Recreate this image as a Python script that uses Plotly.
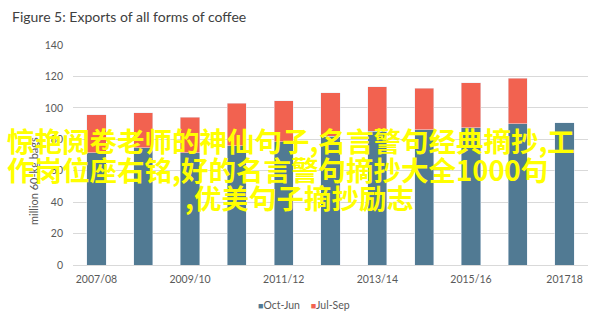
import plotly.graph_objects as go

categories = ["2007/08", "2008/09", "2009/10", "2010/11", "2011/12", "2012/13",
              "2013/14", "2014/15", "2015/16", "2016/17", "2017/18"]
oct_jun = [71.5, 74.5, 71.5, 76, 78.5, 82, 85, 86, 87.5, 90, 90.5]
jul_sep = [24, 22.5, 22.5, 27, 26, 27.5, 28.5, 26.5, 28.5, 29, None]
tick_vals = ["2007/08", "2009/10", "2011/12", "2013/14", "2015/16", "2017/18"]
tick_text = ["2007/08", "2009/10", "2011/12", "2013/14", "2015/16", "201718"]
y_ticks = [0, 20, 40, 60, 80, 100, 120, 140]
series_names = ["Oct-Jun", "Jul-Sep"]

title_text = "Figure 5: Exports of all forms of coffee"
y_title = "million 60-kg bags"
overlay_lines = ["惊艳阅卷老师的神仙句子,名言警句经典摘抄,工",
                 "作岗位座右铭,好的名言警句摘抄大全1000句",
                 ",优美句子摘抄励志"]

BLUE = "#517A93"
RED = "#F26250"
GRAY = "#595959"
FONT = "Lato"

fig = go.Figure()
fig.add_trace(go.Bar(x=categories, y=oct_jun, name=series_names[0], marker_color=BLUE,
                     showlegend=False))
fig.add_trace(go.Bar(x=categories, y=jul_sep, name=series_names[1], marker_color=RED,
                     showlegend=False))

W, H = 608, 328
L, R, T, B = 73, 20, 45, 63
pw, ph = W - L - R, H - T - B

def px_x(x):
    return (x - L) / pw

def px_y(y):
    return (H - B - y) / ph

fig.update_layout(
    width=W, height=H,
    margin=dict(l=L, r=R, t=T, b=B, pad=0),
    paper_bgcolor="white", plot_bgcolor="white",
    barmode="stack", bargap=0.59,
    font=dict(family=FONT, color=GRAY, size=10.5),
    title=dict(text=title_text, x=12 / W, xanchor="left", xref="container",
               y=1 - 17 / H, yanchor="middle", yref="container",
               font=dict(size=14, color="#404040", family=FONT)),
    showlegend=False,
)
fig.update_xaxes(tickmode="array", tickvals=tick_vals, ticktext=tick_text,
                 showgrid=False, showline=True, linecolor="#D9D9D9", linewidth=1,
                 ticks="", tickfont=dict(size=10.5, color=GRAY), ticklabelstandoff=4)
fig.update_yaxes(range=[0, 140], tickvals=y_ticks, showgrid=True, gridcolor="#D9D9D9",
                 gridwidth=1, zeroline=False, showline=False, ticks="",
                 tickfont=dict(size=10.5, color=GRAY), ticklabelstandoff=9)

fig.add_annotation(text=y_title, xref="paper", yref="paper", x=px_x(33), y=px_y(181),
                   textangle=-90, showarrow=False, xanchor="center", yanchor="middle",
                   font=dict(size=11, color=GRAY, family=FONT))

# legend drawn as text with coloured square glyphs
legend_text = (f"<span style='color:{BLUE};font-size:9px'>■</span>{series_names[0]}"
               f"&nbsp;&nbsp;&nbsp;&nbsp;<span style='color:{RED};font-size:9px'>■</span>{series_names[1]}")
fig.add_annotation(text=legend_text, xref="paper", yref="paper", x=px_x(304), y=px_y(305),
                   showarrow=False, xanchor="center", yanchor="middle",
                   font=dict(size=10.5, color=GRAY, family=FONT))

overlay_pos = [(5, 140), (5, 169), (183, 197)]
for line, (ox, oy) in zip(overlay_lines, overlay_pos):
    fig.add_annotation(text=f"<b>{line}</b>", xref="paper", yref="paper",
                       x=px_x(ox), y=px_y(oy),
                       showarrow=False, xanchor="left", yanchor="middle",
                       font=dict(size=27.5, color="#FFFF00", family="Noto Sans CJK SC"))

fig.write_html("out.html")
